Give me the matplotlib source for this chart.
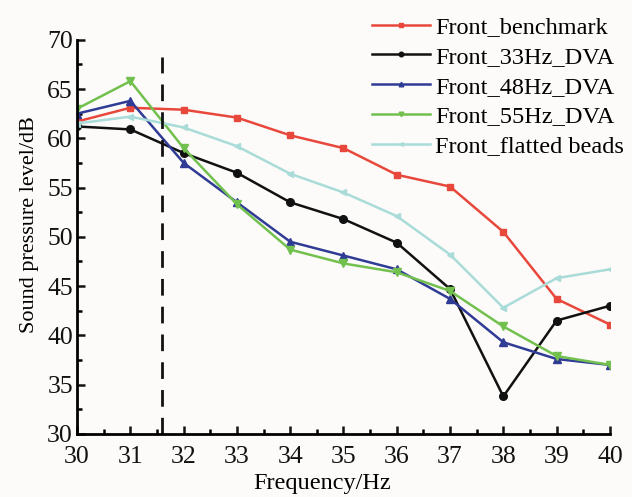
import numpy as np
import matplotlib
matplotlib.use("Agg")
import matplotlib.pyplot as plt
from matplotlib.ticker import MultipleLocator

plt.rcParams['font.family'] = ['Liberation Serif', 'DejaVu Serif']

freq = [30, 31, 32, 33, 34, 35, 36, 37, 38, 39, 40]

benchmark = [61.7, 63.1, 62.9, 62.1, 60.3, 59.0, 56.3, 55.1, 50.5, 43.7, 41.1]
dva_33 = [61.2, 60.9, 58.5, 56.5, 53.5, 51.8, 49.4, 44.7, 33.8, 41.5, 43.0]
dva_48 = [62.5, 63.8, 57.5, 53.5, 49.5, 48.1, 46.7, 43.7, 39.3, 37.6, 37.0]
dva_55 = [63.0, 65.8, 59.0, 53.3, 48.7, 47.3, 46.4, 44.5, 40.9, 37.9, 37.0]
flatted = [61.5, 62.2, 61.1, 59.2, 56.4, 54.5, 52.1, 48.2, 42.8, 45.8, 46.7]

labels = ["Front_benchmark", "Front_33Hz_DVA", "Front_48Hz_DVA",
          "Front_55Hz_DVA", "Front_flatted beads"]

fig = plt.figure(figsize=(6.32, 4.97), dpi=100, facecolor="#fcfbf9")
ax = fig.add_axes([0.122, 0.127, 0.843, 0.793])
ax.set_facecolor("#fcfbf9")

ax.plot(freq, benchmark, color="#e8483b", marker="s", ms=5, lw=1.8, label=labels[0])
ax.plot(freq, dva_33, color="#111111", marker="o", ms=5.5, lw=1.8, label=labels[1])
ax.plot(freq, dva_48, color="#2f3b95", marker="^", ms=5.5, lw=1.8, label=labels[2])
ax.plot(freq, dva_55, color="#72c04e", marker="v", ms=5.5, lw=1.8, label=labels[3])
ax.plot(freq, flatted, color="#a9dcd8", marker="<", ms=4.5, lw=1.8, label=labels[4])

# dashed marker line
ax.plot([31.6, 31.6], [30, 68.3], color="#111111", lw=2, ls=(0, (6, 4)))

ax.set_xlim(30, 40)
ax.set_ylim(30, 70)
ax.xaxis.set_major_locator(MultipleLocator(1))
ax.xaxis.set_minor_locator(MultipleLocator(0.5))
ax.yaxis.set_major_locator(MultipleLocator(5))
ax.yaxis.set_minor_locator(MultipleLocator(2.5))

for s in ["top", "right"]:
    ax.spines[s].set_visible(False)
for s in ["left", "bottom"]:
    ax.spines[s].set_linewidth(2)

ax.tick_params(which="major", direction="in", length=6, width=1.8, labelsize=18.5, colors="#111111")
ax.tick_params(which="minor", direction="in", length=3.5, width=1.8)
ax.tick_params(axis="x", pad=9)
ax.tick_params(axis="y", pad=3)

ax.set_xlabel("Frequency/Hz", fontsize=17.5)
ax.xaxis.set_label_coords(0.46, -0.1)
ax.set_ylabel("Sound pressure level/dB", fontsize=16)
ax.yaxis.set_label_coords(-0.072, 0.53)

leg = ax.legend(loc="upper left", bbox_to_anchor=(0.553, 1.06), frameon=False,
                borderpad=0, borderaxespad=0,
                fontsize=17.5, handlelength=2.4, handletextpad=0.2, labelspacing=0.32,
                markerscale=0.6)

fig.savefig("out.png", dpi=100, facecolor=fig.get_facecolor())
